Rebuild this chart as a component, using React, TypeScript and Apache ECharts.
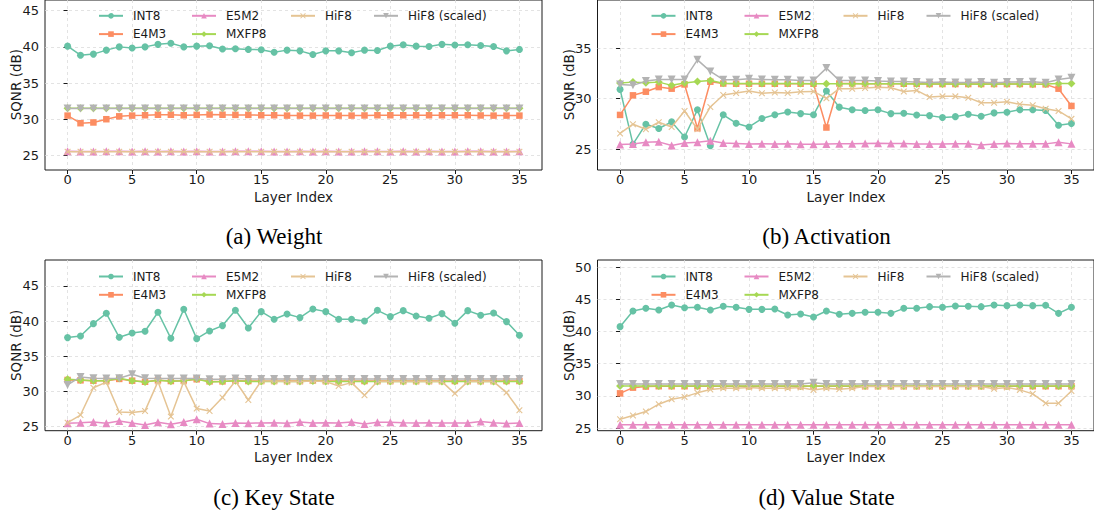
import React, { useEffect, useRef } from "react";
import * as echarts from "echarts";

const layers: number[] = [0,1,2,3,4,5,6,7,8,9,10,11,12,13,14,15,16,17,18,19,20,21,22,23,24,25,26,27,28,29,30,31,32,33,34,35];
const xTicks = [0, 5, 10, 15, 20, 25, 30, 35];
const seriesNames = ["INT8", "E4M3", "E5M2", "MXFP8", "HiF8", "HiF8 (scaled)"];

// (a) Weight
const weightInt8 = [40.1,38.85,39.0,39.55,40.0,39.85,40.0,40.35,40.5,40.0,40.1,40.15,39.7,39.75,39.65,39.6,39.25,39.55,39.45,38.95,39.45,39.45,39.2,39.55,39.5,40.1,40.3,40.1,40.05,40.35,40.25,40.3,40.2,40.05,39.45,39.65];
const weightE4M3 = [30.5,29.45,29.55,30.0,30.4,30.5,30.55,30.62,30.62,30.55,30.6,30.65,30.62,30.6,30.6,30.55,30.55,30.5,30.5,30.5,30.52,30.5,30.5,30.52,30.55,30.55,30.55,30.55,30.55,30.55,30.55,30.55,30.52,30.5,30.5,30.5];
const weightE5M2 = [25.58,25.55,25.55,25.56,25.58,25.55,25.58,25.55,25.56,25.55,25.56,25.55,25.55,25.56,25.56,25.58,25.55,25.55,25.56,25.55,25.56,25.55,25.55,25.58,25.56,25.55,25.58,25.55,25.56,25.55,25.55,25.56,25.56,25.55,25.55,25.56];
const weightMXFP8 = [31.5,31.5,31.5,31.5,31.5,31.5,31.5,31.5,31.5,31.5,31.5,31.5,31.5,31.5,31.5,31.5,31.5,31.5,31.5,31.5,31.5,31.5,31.5,31.5,31.5,31.5,31.5,31.5,31.5,31.5,31.5,31.5,31.5,31.5,31.5,31.5];
const weightHiF8 = [25.5,25.5,25.5,25.5,25.5,25.5,25.5,25.5,25.5,25.5,25.5,25.5,25.5,25.5,25.5,25.5,25.5,25.5,25.5,25.5,25.5,25.5,25.5,25.5,25.5,25.5,25.5,25.5,25.5,25.5,25.5,25.5,25.5,25.5,25.5,25.5];
const weightHiF8s = [31.48,31.48,31.48,31.48,31.48,31.48,31.48,31.48,31.48,31.48,31.48,31.48,31.48,31.48,31.48,31.48,31.48,31.48,31.48,31.48,31.48,31.48,31.48,31.48,31.48,31.48,31.48,31.48,31.48,31.48,31.48,31.48,31.48,31.48,31.48,31.48];

// (b) Activation
const actInt8 = [30.92,25.49,27.47,27.04,27.7,26.2,28.9,25.33,28.4,27.57,27.2,28.03,28.4,28.68,28.52,28.4,30.76,29.16,28.9,28.82,28.91,28.52,28.55,28.39,28.32,28.13,28.22,28.45,28.26,28.59,28.65,28.91,28.91,28.82,27.37,27.53];
const actE4M3 = [28.39,30.33,30.69,31.15,30.99,31.41,27.07,31.68,31.5,31.48,31.48,31.48,31.48,31.48,31.48,31.48,27.14,31.5,31.5,31.48,31.48,31.48,31.48,31.48,31.45,31.45,31.45,31.45,31.45,31.45,31.45,31.45,31.42,31.42,30.99,29.28];
const actE5M2 = [25.45,25.5,25.69,25.72,25.35,25.6,25.69,25.82,25.6,25.56,25.5,25.52,25.5,25.52,25.48,25.48,25.5,25.52,25.52,25.55,25.58,25.55,25.55,25.5,25.5,25.5,25.52,25.52,25.42,25.5,25.55,25.53,25.53,25.52,25.68,25.52];
const actMXFP8 = [31.55,31.64,31.58,31.64,31.32,31.55,31.71,31.8,31.52,31.5,31.5,31.5,31.5,31.5,31.5,31.48,31.48,31.48,31.48,31.48,31.48,31.48,31.48,31.45,31.45,31.45,31.45,31.45,31.42,31.45,31.45,31.45,31.42,31.45,31.5,31.5];
const actHiF8 = [26.55,27.47,26.97,27.66,27.2,28.78,26.97,29.18,30.36,30.56,30.76,30.53,30.62,30.56,30.69,30.72,30.03,30.99,30.99,31.05,31.12,31.09,30.72,30.82,30.16,30.23,30.23,30.1,29.6,29.6,29.7,29.44,29.34,29.0,28.78,28.0];
const actHiF8s = [31.41,31.32,31.74,31.91,31.91,31.91,33.85,32.7,31.88,31.88,31.97,31.91,31.88,31.88,31.8,31.8,33.03,31.8,31.8,31.8,31.74,31.71,31.71,31.64,31.6,31.64,31.6,31.6,31.64,31.58,31.64,31.64,31.67,31.58,31.91,32.07];

// (c) Key State
const keyInt8 = [37.64,37.87,39.63,41.1,37.68,38.3,38.54,41.25,37.54,41.67,37.49,38.59,39.35,41.53,39.01,41.34,40.25,41.01,40.49,41.72,41.34,40.25,40.25,40.01,41.53,40.63,41.48,40.72,40.39,41.06,39.68,41.48,40.82,41.15,39.92,37.97];
const keyE4M3 = [31.6,31.55,31.5,31.5,31.75,31.5,31.35,31.55,31.45,31.5,31.7,31.4,31.4,31.5,31.45,31.45,31.45,31.45,31.45,31.5,31.45,31.45,31.45,31.45,31.45,31.45,31.45,31.45,31.45,31.45,31.45,31.45,31.45,31.45,31.45,31.45];
const keyE5M2 = [25.43,25.52,25.62,25.43,25.76,25.48,25.19,25.57,25.29,25.62,26.0,25.38,25.33,25.48,25.43,25.48,25.52,25.43,25.62,25.48,25.52,25.48,25.62,25.33,25.57,25.57,25.52,25.48,25.52,25.48,25.48,25.48,25.67,25.52,25.38,25.48];
const keyMXFP8 = [31.7,31.6,31.5,31.5,31.84,31.5,31.32,31.55,31.41,31.5,31.75,31.32,31.37,31.5,31.4,31.4,31.4,31.4,31.4,31.45,31.4,31.4,31.4,31.4,31.4,31.4,31.4,31.4,31.4,31.4,31.4,31.4,31.4,31.4,31.4,31.4];
const keyHiF8 = [25.52,26.6,30.5,31.3,27.04,26.95,27.19,31.37,26.38,31.37,27.52,27.19,29.09,31.46,28.75,31.46,31.46,31.37,31.37,31.46,31.37,30.75,31.22,29.42,31.37,31.37,31.37,31.37,31.37,31.37,29.66,31.37,31.37,31.37,29.8,27.28];
const keyHiF8s = [30.9,32.03,31.84,31.8,31.84,32.41,31.84,31.8,31.8,31.8,31.8,31.7,31.7,31.8,31.75,31.75,31.75,31.75,31.75,31.75,31.75,31.75,31.75,31.75,31.75,31.75,31.75,31.75,31.75,31.75,31.75,31.75,31.75,31.75,31.75,31.75];

// (d) Value State
const valInt8 = [40.77,43.2,43.62,43.36,44.14,43.72,43.78,43.36,43.93,43.78,43.46,43.46,43.52,42.58,42.74,42.27,43.2,42.69,42.84,43.0,43.0,42.84,43.62,43.62,43.88,43.78,43.98,43.93,43.88,44.14,44.04,44.14,44.04,44.09,42.84,43.78];
const valE4M3 = [30.39,31.28,31.45,31.5,31.5,31.5,31.5,31.5,31.5,31.5,31.5,31.5,31.5,31.5,31.5,31.5,31.5,31.5,31.5,31.5,31.5,31.5,31.5,31.5,31.5,31.5,31.5,31.5,31.5,31.5,31.5,31.5,31.5,31.5,31.5,31.5];
const valE5M2 = [25.52,25.52,25.52,25.52,25.52,25.52,25.52,25.52,25.52,25.52,25.52,25.52,25.52,25.52,25.52,25.52,25.52,25.52,25.52,25.52,25.52,25.52,25.52,25.52,25.52,25.52,25.52,25.52,25.52,25.52,25.52,25.52,25.52,25.52,25.52,25.52];
const valMXFP8 = [31.54,31.54,31.54,31.54,31.54,31.54,31.54,31.54,31.54,31.54,31.54,31.54,31.54,31.54,31.54,31.54,31.54,31.54,31.54,31.54,31.54,31.54,31.54,31.54,31.54,31.54,31.54,31.54,31.54,31.54,31.54,31.54,31.54,31.54,31.54,31.54];
const valHiF8 = [26.37,26.94,27.56,28.7,29.48,29.84,30.47,30.99,31.19,31.19,31.3,31.19,31.19,31.19,31.3,30.93,31.19,31.04,31.19,31.45,31.45,31.45,31.45,31.45,31.45,31.45,31.45,31.45,31.45,31.09,31.3,30.93,30.31,28.86,28.86,30.76];
const valHiF8s = [31.85,31.85,31.85,31.85,31.85,31.85,31.85,31.85,31.85,31.85,31.85,31.85,31.85,31.85,31.85,32.05,31.85,31.85,31.85,31.85,31.85,31.85,31.85,31.85,31.85,31.85,31.85,31.85,31.85,31.85,31.85,31.85,31.85,31.85,31.85,31.85];

const yTicksA = [25, 30, 35, 40, 45];
const yTicksB = [25, 30, 35];
const yTicksC = [25, 30, 35, 40, 45];
const yTicksD = [25, 30, 35, 40, 45, 50];

const panels = [
  { caption: "(a) Weight", left: 45, top: -0.7, yMin: 22.98, yMax: 46.48, yTicks: yTicksA,
    data: [weightInt8, weightE4M3, weightE5M2, weightMXFP8, weightHiF8, weightHiF8s] },
  { caption: "(b) Activation", left: 597.5, top: -0.7, yMin: 22.93, yMax: 39.78, yTicks: yTicksB,
    data: [actInt8, actE4M3, actE5M2, actMXFP8, actHiF8, actHiF8s] },
  { caption: "(c) Key State", left: 45, top: 260, yMin: 24.37, yMax: 48.7, yTicks: yTicksC,
    data: [keyInt8, keyE4M3, keyE5M2, keyMXFP8, keyHiF8, keyHiF8s] },
  { caption: "(d) Value State", left: 597.5, top: 260, yMin: 24.58, yMax: 51.14, yTicks: yTicksD,
    data: [valInt8, valE4M3, valE5M2, valMXFP8, valHiF8, valHiF8s] },
];

const colors = ["#66c2a5", "#fc8d62", "#e78ac3", "#a6d854", "#e5c494", "#b3b3b3"];
const symbols = [
  "circle",
  "rect",
  "triangle",
  "diamond",
  "path://M0,1.2L1.2,0L5,3.8L8.8,0L10,1.2L6.2,5L10,8.8L8.8,10L5,6.2L1.2,10L0,8.8L3.8,5Z",
  "path://M0,0L10,0L5,9Z",
];
const symbolSizes = [7, 6.5, 8, 8, 6.5, 8];

const PW = 497;
const PH = 170.7;
const FONT = "'DejaVu Sans', sans-serif";

// legend layout: [column offset from grid left, row]
const legendSlots = [
  [53, 0], [53, 1], [146, 0], [146, 1], [245, 0], [328, 0],
];

export default function App() {
  const ref = useRef<HTMLDivElement>(null);
  useEffect(() => {
    if (!ref.current) return;
    document.body.style.margin = "0";
    const chart = echarts.init(ref.current, null, { renderer: "svg" });
    const grid: any[] = [];
    const xAxis: any[] = [];
    const yAxis: any[] = [];
    const series: any[] = [];
    const legend: any[] = [];
    const graphic: any[] = [];

    panels.forEach((p, pi) => {
      grid.push({
        left: p.left, top: p.top, width: PW, height: PH,
        show: true, borderColor: "#1a1a1a", borderWidth: 1, containLabel: false,
      });
      xAxis.push({
        type: "value", gridIndex: pi, min: -1.75, max: 36.75,
        axisLine: { show: false },
        axisTick: { show: true, length: 4, lineStyle: { color: "#1a1a1a" }, customValues: xTicks },
        axisLabel: { customValues: xTicks, fontSize: 13, color: "#1a1a1a", margin: 3, fontFamily: FONT },
        splitLine: { show: true, lineStyle: { type: [3, 3], color: "#dcdcdc", width: 0.8 } },
      });
      yAxis.push({
        type: "value", gridIndex: pi, min: p.yMin, max: p.yMax,
        axisLine: { show: false },
        axisTick: { show: true, length: 4, lineStyle: { color: "#1a1a1a" }, customValues: p.yTicks },
        axisLabel: { customValues: p.yTicks, fontSize: 13, color: "#1a1a1a", margin: 6, fontFamily: FONT },
        splitLine: { show: true, lineStyle: { type: [3, 3], color: "#dcdcdc", width: 0.8 } },
      });
      seriesNames.forEach((name, si) => {
        series.push({
          type: "line", name, xAxisIndex: pi, yAxisIndex: pi,
          data: p.data[si].map((v, i) => [layers[i], v]),
          symbol: symbols[si], symbolSize: symbolSizes[si], showSymbol: true,
          lineStyle: { color: colors[si], width: 1.5 },
          itemStyle: { color: colors[si], borderWidth: 0 },
          emphasis: { disabled: true },
          z: 2 + si,
        });
      });
      seriesNames.forEach((name, si) => {
        const [dx, row] = legendSlots[si];
        legend.push({
          data: [name], left: p.left + dx, top: p.top + 17.5 + row * 18.3 - 7,
          padding: 0, itemWidth: 24, itemHeight: 7, itemGap: 0,
          selectedMode: false,
          textStyle: { fontSize: 12, fontFamily: FONT, color: "#1a1a1a", padding: [0, 0, 0, 5] },
        });
      });
      graphic.push({
        type: "text", x: p.left + PW / 2, y: p.top + PH + 26.7,
        style: { text: "Layer Index", fontSize: 13.5, fontFamily: FONT, fill: "#1a1a1a", textAlign: "center", textVerticalAlign: "middle" },
      });
      graphic.push({
        type: "text", x: p.left - 29, y: p.top + PH / 2, rotation: Math.PI / 2,
        style: { text: "SQNR (dB)", fontSize: 13.5, fontFamily: FONT, fill: "#1a1a1a", textAlign: "center", textVerticalAlign: "middle" },
      });
      graphic.push({
        type: "text", x: p.left + PW / 2 - 19.5, y: p.top + 237.4,
        style: { text: p.caption, fontSize: 23, fontFamily: "'Liberation Serif', 'Times New Roman', serif", fill: "#000", textAlign: "center", textVerticalAlign: "middle" },
      });
    });

    chart.setOption({
      animation: false,
      backgroundColor: "#ffffff",
      grid, xAxis, yAxis, series, legend, graphic,
      tooltip: { show: false },
    });
    return () => chart.dispose();
  }, []);
  return <div ref={ref} style={{ width: 1094, height: 514 }} />;
}
